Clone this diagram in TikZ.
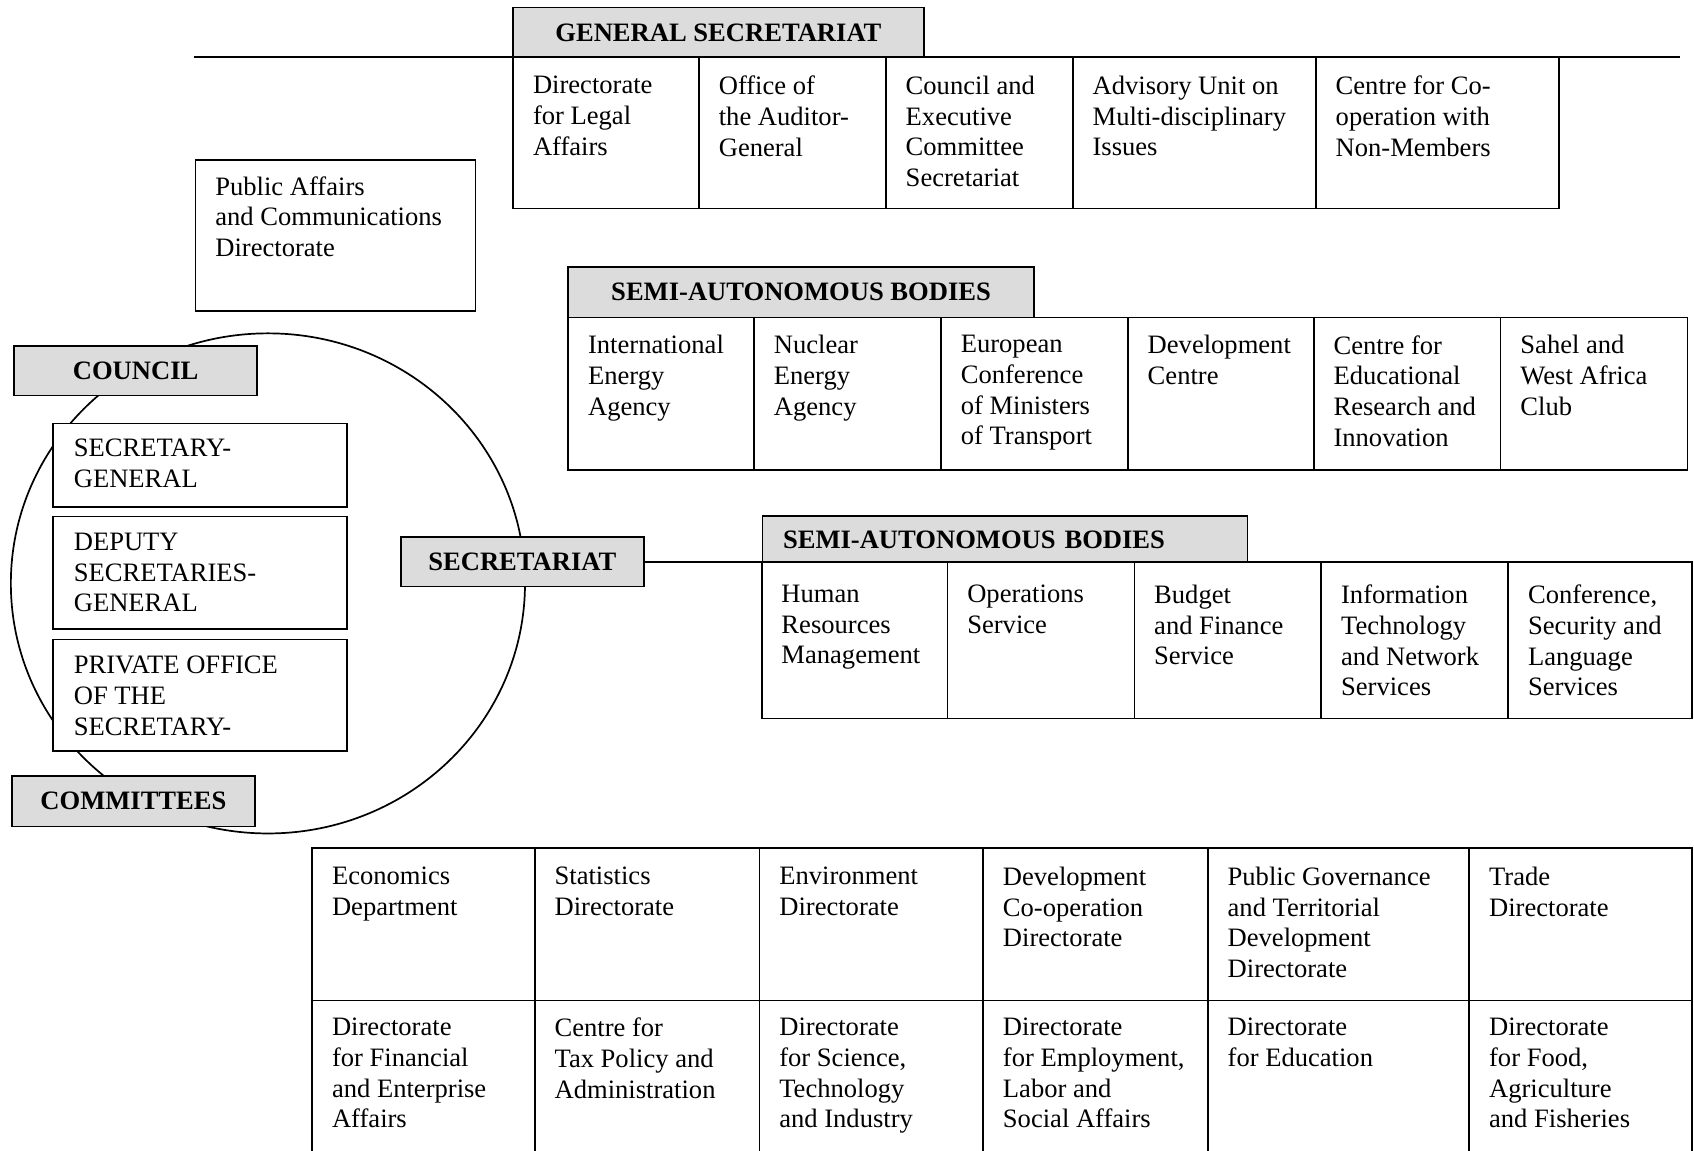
\documentclass[tikz,border=0pt]{standalone}
\usepackage{fontspec}
\setmainfont{Liberation Serif}
\definecolor{hdrgray}{RGB}{220,220,220}
\tikzset{
  hdr/.style={draw, fill=hdrgray, line width=0.9pt, inner sep=0pt, font=\fontsize{14}{16.2}\selectfont\bfseries},
  box/.style={draw, fill=white, line width=0.9pt},
  lbl/.style={anchor=north west, align=left, inner sep=0pt, font=\fontsize{14}{16.2}\selectfont,
    execute at begin node=\strut}
}
\begin{document}
\begin{tikzpicture}[x=0.02cm,y=-0.02cm]
    \useasboundingbox (0,0) rectangle (1568,1065);
    % Circle round the council and committees
    \draw[line width=0.9pt] (248,540) ellipse [x radius=4.76cm, y radius=4.63cm];
    % General secretariat
    \coordinate (gsleft) at (180,53);
    \coordinate (gsright) at (1555,53);
    \draw[line width=0.9pt] (gsleft) -- (gsright);
    \node[hdr, minimum width=7.6cm, minimum height=0.92cm] (gensec) at (665,30) {GENERAL SECRETARIAT};
    \draw[box] (475,53) rectangle (1443,193);
    \foreach \x in {647,820,993,1218} {
      \draw[line width=0.9pt] (\x,53) -- (\x,193);
    }
    \foreach \x/\t [count=\i] in {475/{Directorate\\for Legal\\Affairs}, 647/{Office of\\the Auditor-\\General},
        820/{Council and\\Executive\\Committee\\Secretariat}, 993/{Advisory Unit on\\Multi-disciplinary\\Issues},
        1218/{Centre for Co-\\operation with\\Non-Members}} {
      \node[lbl] (gs\i) at ({\x+18},70) {\t};
    }
    % Public affairs
    \draw[box] (181,148) rectangle (440,288);
    \node[lbl] (pubaff) at (199,163) {Public Affairs\\and Communications\\Directorate};
    % Semi-autonomous bodies, upper
    \node[hdr, minimum width=8.62cm, minimum height=0.94cm] (sabone) at (741.5,270.5) {SEMI-AUTONOMOUS BODIES};
    \draw[box] (526,294) rectangle (1562,435);
    \foreach \x in {698,871,1044,1216,1389} {
      \draw[line width=0.9pt] (\x,294) -- (\x,435);
    }
    \foreach \x/\t [count=\i] in {526/{International\\Energy\\Agency}, 698/{Nuclear\\Energy\\Agency},
        871/{European\\Conference\\of Ministers\\of Transport}, 1044/{Development\\Centre},
        1216/{Centre for\\Educational\\Research and\\Innovation}, 1389/{Sahel and\\West Africa\\Club}} {
      \node[lbl] (sa\i) at ({\x+18},310) {\t};
    }
    % Council, secretary-general and committees
    \draw[box] (49,392) rectangle (321,469);
    \node[lbl] (secgen) at (68,406) {SECRETARY-\\GENERAL};
    \draw[box] (49,478) rectangle (321,582);
    \node[lbl] (deputy) at (68,493) {DEPUTY\\SECRETARIES-\\GENERAL};
    \draw[box] (49,592) rectangle (321,695);
    \node[lbl] (privoff) at (68,607) {PRIVATE OFFICE\\OF THE\\SECRETARY-};
    \node[hdr, minimum width=4.5cm, minimum height=0.92cm] (council) at (125.5,343) {COUNCIL};
    \node[hdr, minimum width=4.5cm, minimum height=0.94cm] (committees) at (123.5,741.5) {COMMITTEES};
    \node[hdr, minimum width=4.5cm, minimum height=0.92cm] (secr) at (483.5,520) {SECRETARIAT};
    % Semi-autonomous bodies, lower
    \coordinate (sabend) at (1532,520);
    \draw[line width=0.9pt] (secr.east) -- (secr.east -| sabend);
    \node[hdr, anchor=north west, minimum width=8.98cm, minimum height=0.86cm, text width=8.22cm,
        inner xsep=0.38cm, align=left] (sabtwo) at (705,477) {SEMI-AUTONOMOUS BODIES};
    \draw[box] (705,520) rectangle (1566,665);
    \foreach \x in {877,1050,1223,1396} {
      \draw[line width=0.9pt] (\x,520) -- (\x,665);
    }
    \foreach \x/\t [count=\i] in {705/{Human\\Resources\\Management}, 877/{Operations\\Service},
        1050/{Budget\\and Finance\\Service}, 1223/{Information\\Technology\\and Network\\Services},
        1396/{Conference,\\Security and\\Language\\Services}} {
      \node[lbl] (sb\i) at ({\x+18},541) {\t};
    }
    % Directorates
    \draw[box] (289,785) rectangle (1566,1080);
    \draw[line width=0.9pt] (289,926) -- (1566,926);
    \foreach \x in {495,703,910,1118,1360} {
      \draw[line width=0.9pt] (\x,785) -- (\x,1080);
    }
    \foreach \x/\t [count=\i] in {289/{Economics\\Department}, 495/{Statistics\\Directorate},
        703/{Environment\\Directorate}, 910/{Development\\Co-operation\\Directorate},
        1118/{Public Governance\\and Territorial\\Development\\Directorate}, 1360/{Trade\\Directorate}} {
      \node[lbl] (dira\i) at ({\x+18},802) {\t};
    }
    \foreach \x/\t [count=\i] in {289/{Directorate\\for Financial\\and Enterprise\\Affairs},
        495/{Centre for\\Tax Policy and\\Administration}, 703/{Directorate\\for Science,\\Technology\\and Industry},
        910/{Directorate\\for Employment,\\Labor and\\Social Affairs}, 1118/{Directorate\\for Education},
        1360/{Directorate\\for Food,\\Agriculture\\and Fisheries}} {
      \node[lbl] (dirb\i) at ({\x+18},942) {\t};
    }
\end{tikzpicture}
\end{document}
